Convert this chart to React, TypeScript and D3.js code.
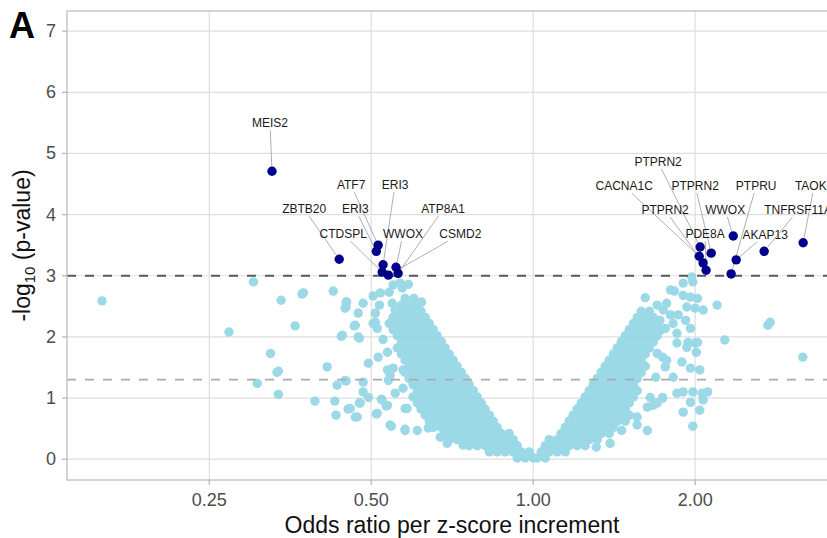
import React from 'react';
import * as d3 from 'd3';

const W = 827;
const H = 538;
const panel = { left: 67, right: 837, top: 11, bottom: 480 };

const xTicks = [0.25, 0.5, 1, 2];
const xTickLabels = ['0.25', '0.50', '1.00', '2.00'];
const yTicks = [0, 1, 2, 3, 4, 5, 6, 7];
const thresholds = [3, 1.301];

// significant hits (odds ratio, -log10 p)
const sigGenes = ['MEIS2', 'ZBTB20', 'ATF7', 'ERI3', 'ERI3', 'CTDSPL', 'WWOX', 'ATP8A1', 'CSMD2',
  'PTPRN2', 'CACNA1C', 'PTPRN2', 'PTPRN2', 'PDE8A', 'WWOX', 'PTPRU', 'AKAP13', 'TNFRSF11A', 'TAOK3'];
const sigOR = [0.327, 0.436, 0.515, 0.526, 0.511, 0.524, 0.556, 0.561, 0.538,
  2.043, 2.035, 2.142, 2.069, 2.096, 2.354, 2.333, 2.384, 2.687, 3.175];
const sigP = [4.71, 3.27, 3.50, 3.18, 3.40, 3.06, 3.14, 3.04, 3.01,
  3.47, 3.32, 3.37, 3.21, 3.09, 3.65, 3.03, 3.26, 3.40, 3.54];
// repelled label offsets (px) from each point
const labelNudge: [number, number][] = [
  [-2, -48], [-35, -50], [-27, -60], [12, -80], [-21, -42], [-39, -38], [7, -33], [45, -64], [72, -41],
  [-42, -85], [-75, -70], [-16, -67], [-38, -53], [-1, -36], [-8, -26], [25, -88], [29, -25], [34, -41], [11, -57],
];

// dense cloud, left arm: [-log10 p, odds ratios]
const leftArm: [number, number[]][] = [
  [0.02, [1.0, 0.966, 0.934]],
  [0.12, [0.983, 0.95, 0.918, 0.887, 0.857, 0.829]],
  [0.22, [0.934, 0.902, 0.872, 0.843, 0.814, 0.787, 0.76]],
  [0.32, [0.918, 0.887, 0.857, 0.829, 0.801, 0.774, 0.748, 0.722, 0.698]],
  [0.42, [0.902, 0.872, 0.843, 0.814, 0.787, 0.76, 0.735, 0.71, 0.686]],
  [0.52, [0.857, 0.829, 0.801, 0.774, 0.748, 0.722, 0.698, 0.675, 0.652]],
  [0.62, [0.843, 0.814, 0.787, 0.76, 0.735, 0.71, 0.686, 0.663, 0.641]],
  [0.72, [0.829, 0.801, 0.774, 0.748, 0.722, 0.698, 0.675, 0.652, 0.63]],
  [0.82, [0.814, 0.787, 0.76, 0.735, 0.71, 0.686, 0.663, 0.641, 0.619]],
  [0.92, [0.801, 0.774, 0.748, 0.722, 0.698, 0.675, 0.652, 0.63, 0.609]],
  [1.02, [0.787, 0.76, 0.735, 0.71, 0.686, 0.663, 0.641, 0.619, 0.598]],
  [1.12, [0.774, 0.748, 0.722, 0.698, 0.675, 0.652, 0.63, 0.609]],
  [1.22, [0.76, 0.735, 0.71, 0.686, 0.663, 0.641, 0.619, 0.598]],
  [1.32, [0.748, 0.722, 0.698, 0.675, 0.652, 0.63, 0.609, 0.588]],
  [1.42, [0.735, 0.71, 0.686, 0.663, 0.641, 0.619, 0.598, 0.578]],
  [1.52, [0.722, 0.698, 0.675, 0.652, 0.63, 0.609, 0.588]],
  [1.62, [0.71, 0.686, 0.663, 0.641, 0.619, 0.598, 0.578]],
  [1.72, [0.698, 0.675, 0.652, 0.63, 0.609, 0.588, 0.569]],
  [1.82, [0.686, 0.663, 0.641, 0.619, 0.598, 0.578, 0.559]],
  [1.92, [0.675, 0.652, 0.63, 0.609, 0.588, 0.569]],
  [2.02, [0.663, 0.641, 0.619, 0.598, 0.578, 0.559]],
  [2.12, [0.652, 0.63, 0.609, 0.588, 0.569, 0.549]],
  [2.22, [0.641, 0.619, 0.598, 0.578, 0.559, 0.54]],
  [2.32, [0.63, 0.609, 0.588, 0.569, 0.549]],
  [2.42, [0.619, 0.598, 0.578, 0.559]],
  [2.52, [0.609, 0.588, 0.569]],
];

// dense cloud, right arm
const rightArm: [number, number[]][] = [
  [0.02, [1.017, 1.053]],
  [0.12, [1.035, 1.071, 1.108, 1.147]],
  [0.22, [1.053, 1.089, 1.127, 1.166, 1.207, 1.249]],
  [0.32, [1.071, 1.108, 1.147, 1.187, 1.228, 1.271, 1.315]],
  [0.42, [1.127, 1.166, 1.207, 1.249, 1.293, 1.338, 1.385]],
  [0.52, [1.147, 1.187, 1.228, 1.271, 1.315, 1.361, 1.409]],
  [0.62, [1.166, 1.207, 1.249, 1.293, 1.338, 1.385, 1.433, 1.483]],
  [0.72, [1.187, 1.228, 1.271, 1.315, 1.361, 1.409, 1.458, 1.509]],
  [0.82, [1.207, 1.249, 1.293, 1.338, 1.385, 1.433, 1.483]],
  [0.92, [1.228, 1.271, 1.315, 1.361, 1.409, 1.458, 1.509]],
  [1.02, [1.249, 1.293, 1.338, 1.385, 1.433, 1.483, 1.535]],
  [1.12, [1.271, 1.315, 1.361, 1.409, 1.458, 1.509, 1.561]],
  [1.22, [1.293, 1.338, 1.385, 1.433, 1.483, 1.535]],
  [1.32, [1.315, 1.361, 1.409, 1.458, 1.509, 1.561]],
  [1.42, [1.338, 1.385, 1.433, 1.483, 1.535, 1.588]],
  [1.52, [1.361, 1.409, 1.458, 1.509, 1.561, 1.616]],
  [1.62, [1.385, 1.433, 1.483, 1.535, 1.588]],
  [1.72, [1.409, 1.458, 1.509, 1.561, 1.616]],
  [1.82, [1.433, 1.483, 1.535, 1.588, 1.644]],
  [1.92, [1.458, 1.509, 1.561, 1.616, 1.672]],
  [2.02, [1.483, 1.535, 1.588, 1.644, 1.701]],
  [2.12, [1.509, 1.561, 1.616, 1.672, 1.731]],
  [2.22, [1.535, 1.588, 1.644, 1.701]],
  [2.32, [1.561, 1.616, 1.672]],
  [2.42, [1.588, 1.644]],
];

// scattered non-significant points [odds ratio, -log10 p]
const scatterLeft: [number, number][] = [
  [0.158, 2.59], [0.302, 2.90], [0.272, 2.08], [0.340, 2.60], [0.374, 2.72], [0.372, 2.70], [0.361, 2.18],
  [0.425, 2.75], [0.449, 2.57], [0.449, 2.49], [0.440, 2.01], [0.325, 1.73], [0.334, 1.42], [0.336, 1.44],
  [0.307, 1.24], [0.336, 1.06], [0.414, 1.51], [0.432, 1.21], [0.393, 0.95], [0.428, 0.95], [0.430, 0.72],
  [0.453, 0.82], [0.449, 1.28], [0.483, 2.55], [0.473, 2.39], [0.465, 2.18], [0.475, 1.98], [0.494, 1.57],
  [0.483, 1.10], [0.494, 1.01], [0.475, 0.92], [0.471, 0.69], [0.511, 0.74], [0.522, 0.98], [0.533, 0.87],
  [0.545, 0.54], [0.578, 0.49], [0.578, 0.83], [0.504, 2.67], [0.520, 2.72], [0.518, 2.52], [0.509, 2.24],
  [0.513, 2.14], [0.526, 1.96], [0.515, 1.67], [0.536, 1.46], [0.549, 2.85], [0.566, 2.88], [0.586, 2.86],
  [0.54, 2.73], [0.571, 2.80], [0.578, 2.63], [0.60, 2.63], [0.62, 2.57], [0.547, 2.55], [0.554, 2.44],
  [0.45, 2.57], [0.447, 2.47], [0.509, 2.39], [0.504, 2.22], [0.467, 2.19], [0.473, 2.0], [0.442, 2.03],
  [0.536, 1.75], [0.549, 1.49], [0.542, 1.37], [0.538, 1.29], [0.573, 1.46], [0.447, 1.29], [0.483, 1.26],
  [0.573, 1.16], [0.554, 1.08], [0.477, 0.92], [0.457, 0.83], [0.467, 0.69], [0.513, 0.75], [0.524, 0.97],
  [0.536, 0.88], [0.583, 0.83], [0.542, 0.56], [0.578, 0.47], [0.609, 0.47], [0.638, 0.51], [0.672, 0.36],
  [0.692, 0.26], [0.741, 0.23],
];
const scatterRight: [number, number][] = [
  [1.615, 2.64], [1.70, 2.52], [1.77, 2.55], [1.80, 2.77], [1.83, 2.75], [1.90, 2.88], [1.97, 2.98],
  [1.98, 2.90], [1.90, 2.68], [1.96, 2.65], [2.02, 2.63], [1.93, 2.49], [2.00, 2.47], [2.07, 2.44],
  [1.86, 2.36], [1.92, 2.27], [1.96, 2.14], [2.197, 2.52], [2.27, 1.95], [1.85, 1.90], [1.93, 1.83],
  [2.0, 1.90], [2.02, 1.91], [2.01, 1.75], [1.89, 1.59], [1.96, 1.49], [2.04, 1.46], [1.76, 1.51],
  [1.69, 1.34], [1.82, 1.34], [1.85, 1.08], [1.90, 1.10], [1.98, 1.10], [2.06, 1.08], [2.11, 1.10],
  [1.96, 0.93], [2.07, 0.97], [2.04, 0.80], [1.90, 0.77], [1.98, 0.54], [1.74, 1.01], [1.70, 0.92],
  [1.63, 0.85], [1.56, 0.69], [1.63, 0.47], [1.56, 0.56], [1.39, 0.26], [1.31, 0.20], [1.46, 0.47],
  [2.757, 2.24], [2.73, 2.19], [3.17, 1.67], [1.745, 2.44], [1.80, 2.36], [1.72, 2.27], [1.82, 2.22],
  [1.76, 2.14], [1.85, 2.06], [1.94, 1.91], [1.74, 1.67], [1.77, 1.62], [1.70, 1.73], [1.65, 1.01],
  [1.74, 1.00], [1.67, 0.88],
];

const font = "'Liberation Sans', Arial, Helvetica, sans-serif";

export default function App() {
  const x = d3.scaleLog().base(2).domain([0.136, 3.67]).range([panel.left, panel.right]);
  const y = d3.scaleLinear().domain([-0.34, 7.33]).range([panel.bottom, panel.top]);

  const cloud: [number, number][] = [...leftArm, ...rightArm]
    .flatMap(([p, ors]) => ors.map(or => [or, p] as [number, number]))
    .concat(scatterLeft, scatterRight);

  const sig = sigGenes.map((g, i) => {
    const px = x(sigOR[i]);
    const py = y(sigP[i]);
    const [dx, dy] = labelNudge[i];
    const lx = px + dx;
    const ly = py + dy;
    const hw = g.length * 4 + 2;
    const hh = 7;
    const vx = px - lx;
    const vy = py - ly;
    const t = Math.min(hw / Math.max(Math.abs(vx), 1e-6), hh / Math.max(Math.abs(vy), 1e-6));
    const len = Math.hypot(vx, vy);
    return {
      g, px, py, lx, ly,
      seg: t < 1 && len * (1 - t) > 8,
      sx: lx + vx * t, sy: ly + vy * t,
      ex: px - (vx / len) * 5, ey: py - (vy / len) * 5,
    };
  });

  return (
    <svg width={W} height={H} style={{ position: 'absolute', left: 0, top: 0, background: '#fff' }} fontFamily={font}>
      <defs>
        <clipPath id="panel-clip">
          <rect x={panel.left} y={panel.top} width={panel.right - panel.left} height={panel.bottom - panel.top} />
        </clipPath>
      </defs>

      {/* grid */}
      <g stroke="#dedede" strokeWidth={1.2}>
        {yTicks.map(t => <line key={'gy' + t} x1={panel.left} x2={panel.right} y1={y(t)} y2={y(t)} />)}
        {xTicks.map(t => <line key={'gx' + t} x1={x(t)} x2={x(t)} y1={panel.top} y2={panel.bottom} />)}
      </g>

      <g clipPath="url(#panel-clip)">
        {/* non-significant points */}
        <g fill="#8fd4e4" opacity={0.88}>
          {cloud.map(([or, p], i) => <circle key={i} cx={x(or)} cy={y(p)} r={4.7} />)}
        </g>

        {/* thresholds */}
        <line x1={panel.left} x2={panel.right} y1={y(thresholds[0])} y2={y(thresholds[0])}
          stroke="#5a5a5a" strokeWidth={1.8} strokeDasharray="9,9" />
        <line x1={panel.left} x2={panel.right} y1={y(thresholds[1])} y2={y(thresholds[1])}
          stroke="#ababab" strokeWidth={1.8} strokeDasharray="9,9" />

        {/* label leaders */}
        <g stroke="#a6a6a6" strokeWidth={0.9}>
          {sig.filter(d => d.seg).map((d, i) => (
            <line key={i} x1={d.sx} y1={d.sy} x2={d.ex} y2={d.ey} />
          ))}
        </g>

        {/* significant points */}
        <g fill="#00008b">
          {sig.map((d, i) => <circle key={i} cx={d.px} cy={d.py} r={4.7} />)}
        </g>
      </g>

      {/* gene labels */}
      <g fontSize={12} fill="#1a1a1a" textAnchor="middle">
        {sig.map((d, i) => (
          <text key={i} x={d.lx} y={d.ly} dominantBaseline="central">{d.g}</text>
        ))}
      </g>

      {/* panel border */}
      <rect x={panel.left} y={panel.top} width={panel.right - panel.left} height={panel.bottom - panel.top}
        fill="none" stroke="#bdbdbd" strokeWidth={1.3} />

      {/* y axis */}
      <g>
        {yTicks.map(t => (
          <g key={t}>
            <line x1={panel.left - 5} x2={panel.left} y1={y(t)} y2={y(t)} stroke="#b3b3b3" strokeWidth={1.2} />
            <text x={56} y={y(t)} dominantBaseline="central" textAnchor="end" fontSize={18} fill="#4d4d4d">{t}</text>
          </g>
        ))}
      </g>

      {/* x axis */}
      <g>
        {xTicks.map((t, i) => (
          <g key={t}>
            <line x1={x(t)} x2={x(t)} y1={panel.bottom} y2={panel.bottom + 5} stroke="#b3b3b3" strokeWidth={1.2} />
            <text x={x(t)} y={506} textAnchor="middle" fontSize={18} fill="#4d4d4d">{xTickLabels[i]}</text>
          </g>
        ))}
      </g>

      {/* titles */}
      <text x={(panel.left + panel.right) / 2} y={533} textAnchor="middle" fontSize={23} fill="#111">
        Odds ratio per z-score increment
      </text>
      <text transform={`translate(30,${(panel.top + panel.bottom) / 2}) rotate(-90)`} textAnchor="middle" fontSize={23} fill="#111">
        -log<tspan fontSize={15} dy={5}>10</tspan><tspan dy={-5}> (p-value)</tspan>
      </text>

      <text x={9} y={38} fontSize={36} fontWeight="bold" fill="#000">A</text>
    </svg>
  );
}
